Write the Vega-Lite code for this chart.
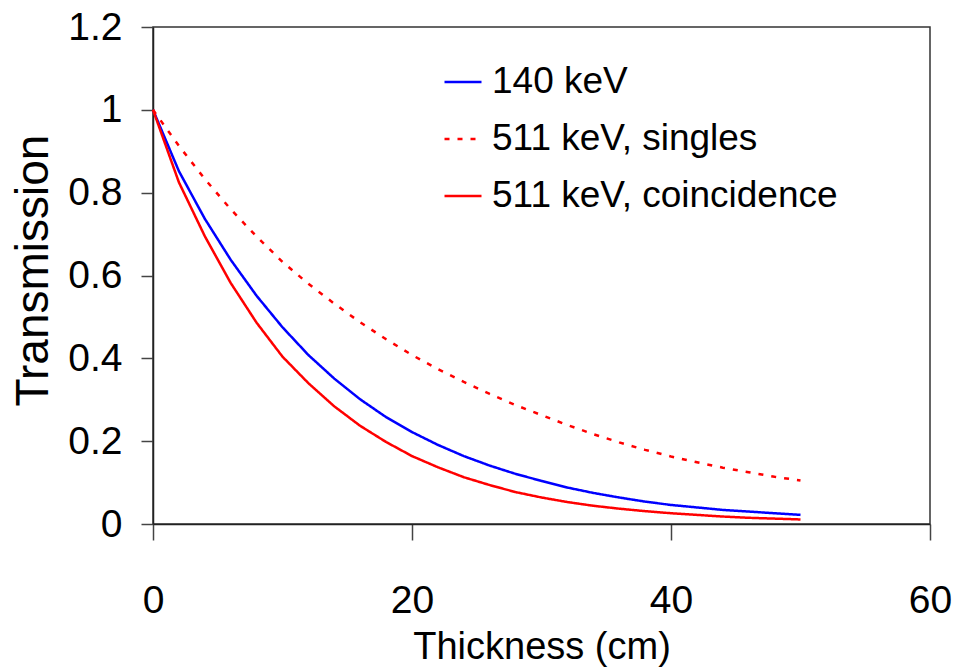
{
  "$schema": "https://vega.github.io/schema/vega-lite/v6.json",
  "width": 777,
  "height": 497,
  "autosize": {"type": "none"},
  "padding": {"left": 153, "top": 27, "right": 35, "bottom": 147},
  "background": "white",
  "config": {
    "view": {"stroke": "#333333", "strokeWidth": 1.5},
    "font": "Liberation Sans",
    "axis": {
      "grid": false,
      "domainColor": "#222222",
      "domainWidth": 1.5,
      "tickColor": "#444444",
      "tickWidth": 1.5,
      "labelColor": "black",
      "titleColor": "black",
      "labelFont": "Liberation Sans",
      "titleFont": "Liberation Sans",
      "labelFontWeight": "normal",
      "titleFontWeight": "normal"
    }
  },
  "data": {
    "values": [
      {"t": 0, "s": "140 keV", "v": 1.0},
      {"t": 2, "s": "140 keV", "v": 0.852},
      {"t": 4, "s": "140 keV", "v": 0.737},
      {"t": 6, "s": "140 keV", "v": 0.638},
      {"t": 8, "s": "140 keV", "v": 0.551},
      {"t": 10, "s": "140 keV", "v": 0.475},
      {"t": 12, "s": "140 keV", "v": 0.408},
      {"t": 14, "s": "140 keV", "v": 0.351},
      {"t": 16, "s": "140 keV", "v": 0.301},
      {"t": 18, "s": "140 keV", "v": 0.258},
      {"t": 20, "s": "140 keV", "v": 0.222},
      {"t": 22, "s": "140 keV", "v": 0.191},
      {"t": 24, "s": "140 keV", "v": 0.164},
      {"t": 26, "s": "140 keV", "v": 0.141},
      {"t": 28, "s": "140 keV", "v": 0.121},
      {"t": 30, "s": "140 keV", "v": 0.104},
      {"t": 32, "s": "140 keV", "v": 0.088},
      {"t": 34, "s": "140 keV", "v": 0.075},
      {"t": 36, "s": "140 keV", "v": 0.064},
      {"t": 38, "s": "140 keV", "v": 0.054},
      {"t": 40, "s": "140 keV", "v": 0.046},
      {"t": 42, "s": "140 keV", "v": 0.040},
      {"t": 44, "s": "140 keV", "v": 0.034},
      {"t": 46, "s": "140 keV", "v": 0.030},
      {"t": 48, "s": "140 keV", "v": 0.026},
      {"t": 50, "s": "140 keV", "v": 0.022},
      {"t": 0, "s": "511 keV, singles", "v": 1.0},
      {"t": 2, "s": "511 keV, singles", "v": 0.913},
      {"t": 4, "s": "511 keV, singles", "v": 0.833},
      {"t": 6, "s": "511 keV, singles", "v": 0.760},
      {"t": 8, "s": "511 keV, singles", "v": 0.694},
      {"t": 10, "s": "511 keV, singles", "v": 0.633},
      {"t": 12, "s": "511 keV, singles", "v": 0.580},
      {"t": 14, "s": "511 keV, singles", "v": 0.532},
      {"t": 16, "s": "511 keV, singles", "v": 0.487},
      {"t": 18, "s": "511 keV, singles", "v": 0.446},
      {"t": 20, "s": "511 keV, singles", "v": 0.408},
      {"t": 22, "s": "511 keV, singles", "v": 0.374},
      {"t": 24, "s": "511 keV, singles", "v": 0.343},
      {"t": 26, "s": "511 keV, singles", "v": 0.314},
      {"t": 28, "s": "511 keV, singles", "v": 0.287},
      {"t": 30, "s": "511 keV, singles", "v": 0.263},
      {"t": 32, "s": "511 keV, singles", "v": 0.239},
      {"t": 34, "s": "511 keV, singles", "v": 0.217},
      {"t": 36, "s": "511 keV, singles", "v": 0.197},
      {"t": 38, "s": "511 keV, singles", "v": 0.179},
      {"t": 40, "s": "511 keV, singles", "v": 0.163},
      {"t": 42, "s": "511 keV, singles", "v": 0.149},
      {"t": 44, "s": "511 keV, singles", "v": 0.136},
      {"t": 46, "s": "511 keV, singles", "v": 0.125},
      {"t": 48, "s": "511 keV, singles", "v": 0.114},
      {"t": 50, "s": "511 keV, singles", "v": 0.105},
      {"t": 0, "s": "511 keV, coincidence", "v": 1.0},
      {"t": 2, "s": "511 keV, coincidence", "v": 0.825},
      {"t": 4, "s": "511 keV, coincidence", "v": 0.695},
      {"t": 6, "s": "511 keV, coincidence", "v": 0.582},
      {"t": 8, "s": "511 keV, coincidence", "v": 0.486},
      {"t": 10, "s": "511 keV, coincidence", "v": 0.404},
      {"t": 12, "s": "511 keV, coincidence", "v": 0.340},
      {"t": 14, "s": "511 keV, coincidence", "v": 0.284},
      {"t": 16, "s": "511 keV, coincidence", "v": 0.237},
      {"t": 18, "s": "511 keV, coincidence", "v": 0.198},
      {"t": 20, "s": "511 keV, coincidence", "v": 0.164},
      {"t": 22, "s": "511 keV, coincidence", "v": 0.137},
      {"t": 24, "s": "511 keV, coincidence", "v": 0.113},
      {"t": 26, "s": "511 keV, coincidence", "v": 0.094},
      {"t": 28, "s": "511 keV, coincidence", "v": 0.077},
      {"t": 30, "s": "511 keV, coincidence", "v": 0.064},
      {"t": 32, "s": "511 keV, coincidence", "v": 0.053},
      {"t": 34, "s": "511 keV, coincidence", "v": 0.044},
      {"t": 36, "s": "511 keV, coincidence", "v": 0.037},
      {"t": 38, "s": "511 keV, coincidence", "v": 0.031},
      {"t": 40, "s": "511 keV, coincidence", "v": 0.026},
      {"t": 42, "s": "511 keV, coincidence", "v": 0.022},
      {"t": 44, "s": "511 keV, coincidence", "v": 0.018},
      {"t": 46, "s": "511 keV, coincidence", "v": 0.015},
      {"t": 48, "s": "511 keV, coincidence", "v": 0.013},
      {"t": 50, "s": "511 keV, coincidence", "v": 0.011}
    ]
  },
  "mark": {"type": "line", "strokeWidth": 2.5},
  "encoding": {
    "x": {
      "field": "t",
      "type": "quantitative",
      "scale": {"domain": [0, 60], "nice": false, "zero": false},
      "axis": {
        "title": "Thickness (cm)",
        "values": [0, 20, 40, 60],
        "tickSize": 16,
        "labelFontSize": 39,
        "labelBaseline": "alphabetic",
        "labelPadding": 72,
        "labelFlush": false,
        "titleFontSize": 38,
        "titleBaseline": "alphabetic",
        "titleY": 134
      }
    },
    "y": {
      "field": "v",
      "type": "quantitative",
      "scale": {"domain": [0, 1.2], "nice": false},
      "axis": {
        "title": "Transmission",
        "values": [0, 0.2, 0.4, 0.6, 0.8, 1, 1.2],
        "format": "~g",
        "tickSize": 12,
        "labelFontSize": 39,
        "labelPadding": 19,
        "labelFlush": false,
        "titleFontSize": 46,
        "titleX": -106,
        "titleY": 243,
        "titleAngle": 270,
        "titleBaseline": "alphabetic"
      }
    },
    "color": {
      "field": "s",
      "type": "nominal",
      "scale": {
        "domain": ["140 keV", "511 keV, singles", "511 keV, coincidence"],
        "range": ["#0000ff", "#ff0000", "#ff0000"]
      },
      "legend": {
        "title": null,
        "orient": "none",
        "legendX": 290,
        "legendY": 35,
        "symbolType": "stroke",
        "symbolSize": 1369,
        "symbolStrokeWidth": 2.5,
        "labelFontSize": 37,
        "labelLimit": 600,
        "labelOffset": 9,
        "labelColor": "black",
        "rowPadding": 19,
        "padding": 0
      }
    },
    "strokeDash": {
      "field": "s",
      "type": "nominal",
      "scale": {
        "domain": ["140 keV", "511 keV, singles", "511 keV, coincidence"],
        "range": [[1, 0], [5, 8], [1, 0]]
      },
      "legend": {
        "title": null,
        "orient": "none",
        "legendX": 290,
        "legendY": 35,
        "symbolType": "stroke",
        "symbolSize": 1369,
        "symbolStrokeWidth": 2.5,
        "labelFontSize": 37,
        "labelLimit": 600,
        "labelOffset": 9,
        "labelColor": "black",
        "rowPadding": 19,
        "padding": 0
      }
    }
  }
}
